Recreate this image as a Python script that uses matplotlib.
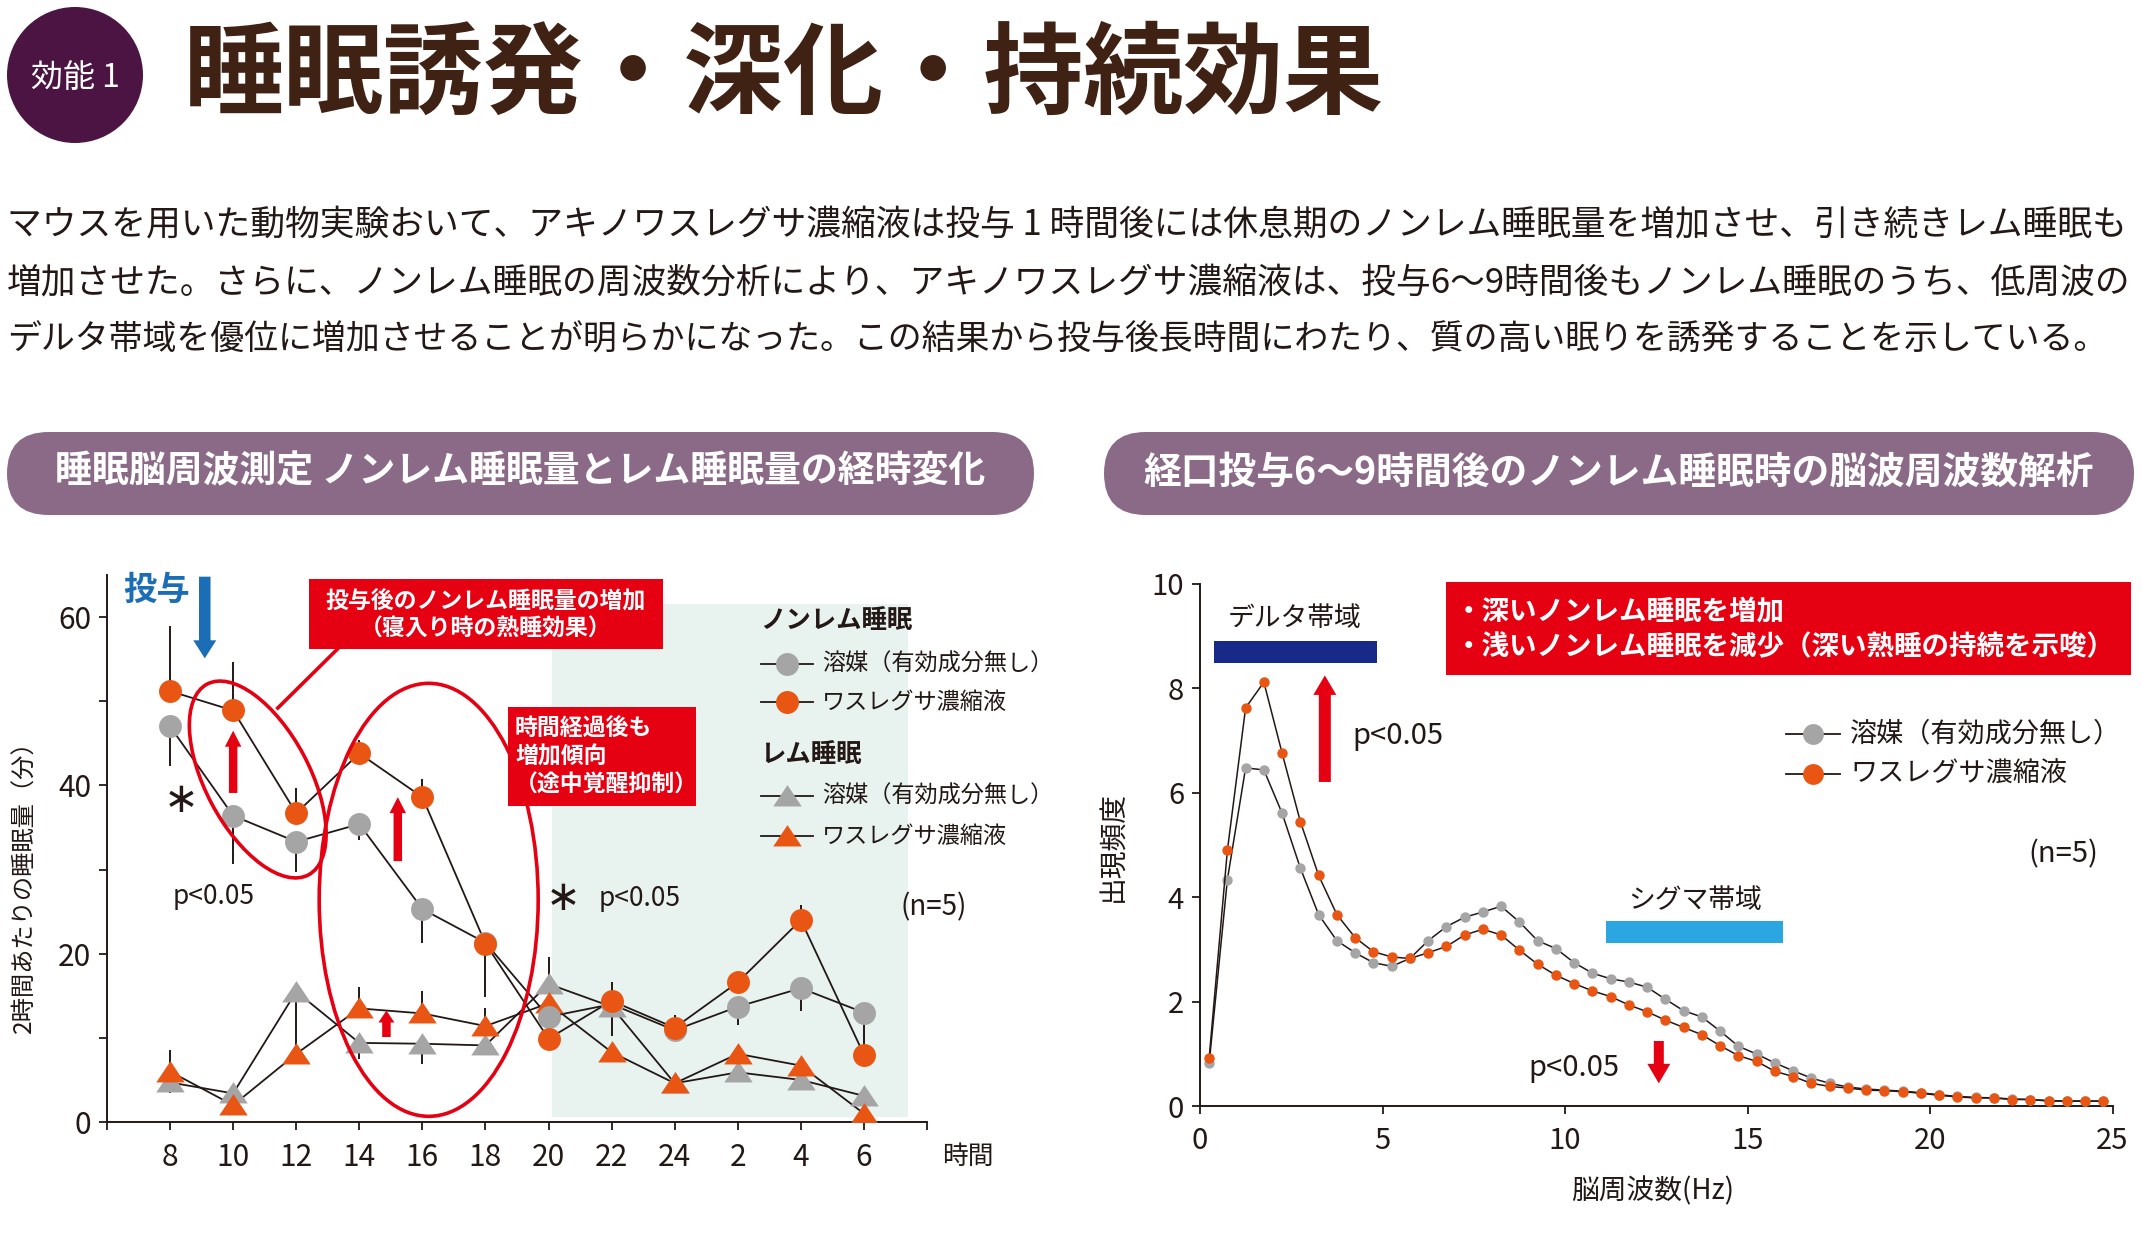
import matplotlib
matplotlib.use("Agg")
import matplotlib.pyplot as plt
from matplotlib.patches import Ellipse, FancyBboxPatch, FancyArrow, Rectangle, Circle

W, H = 2142, 1233
plt.rcParams["font.family"] = ["Noto Sans CJK JP", "DejaVu Sans"]

INK = "#231815"
GRAY = "#a5a5a5"
ORANGE = "#e95513"
RED = "#e50012"
BLUE = "#1b6db5"
PURPLE = "#8b6a88"

# ---- left chart: sleep amount per 2 h (min) ----
HOURS = ["8", "10", "12", "14", "16", "18", "20", "22", "24", "2", "4", "6"]
NREM_VEH = [47.0, 36.4, 33.3, 35.4, 25.3, 21.3, 12.5, 14.0, 10.9, 13.7, 15.9, 13.0]
NREM_VEH_LO = [4.7, 5.7, 3.6, 1.9, 4.0, 6.4, 0, 0, 0, 2.2, 2.7, 5.0]
NREM_VEH_HI = [0, 0, 0, 0, 0, 0, 0, 0, 0, 0, 0, 0]
NREM_WAS = [51.2, 48.9, 36.7, 43.8, 38.6, 21.2, 9.9, 14.4, 11.2, 16.6, 24.0, 8.0]
NREM_WAS_LO = [0, 0, 0, 0, 0, 0, 0, 0, 0, 0, 0, 0]
NREM_WAS_HI = [7.7, 5.8, 3.0, 1.6, 2.2, 0, 0, 2.2, 1.5, 0, 1.8, 0]
REM_VEH = [4.7, 3.4, 15.5, 9.4, 9.3, 9.1, 16.4, 13.7, 4.6, 5.9, 5.0, 3.1]
REM_VEH_LO = [1.3, 0, 6.5, 1.9, 2.4, 0, 0, 3.5, 0, 0, 0, 0]
REM_VEH_HI = [0, 0, 0, 0, 0, 0, 3.2, 0, 0, 0, 0, 0]
REM_WAS = [6.0, 2.0, 8.1, 13.5, 12.9, 11.4, 14.1, 8.3, 4.6, 8.1, 6.7, 1.0]
REM_WAS_LO = [0, 0, 0, 0, 0, 0, 0, 0, 0, 0, 0, 0]
REM_WAS_HI = [2.6, 0, 0, 2.6, 2.7, 2.2, 0, 0, 0, 0, 0, 0]
NIGHT_SPAN = (6.05, 11.7)   # shaded dark period, in hour-slot index

# ---- right chart: EEG frequency distribution ----
FREQ = [0.25, 0.75, 1.25, 1.75, 2.25, 2.75, 3.25, 3.75, 4.25, 4.75,
        5.25, 5.75, 6.25, 6.75, 7.25, 7.75, 8.25, 8.75, 9.25, 9.75,
        10.25, 10.75, 11.25, 11.75, 12.25, 12.75, 13.25, 13.75, 14.25, 14.75,
        15.25, 15.75, 16.25, 16.75, 17.25, 17.75, 18.25, 18.75, 19.25, 19.75,
        20.25, 20.75, 21.25, 21.75, 22.25, 22.75, 23.25, 23.75, 24.25, 24.75]
POW_VEH = [0.82, 4.34, 6.48, 6.44, 5.61, 4.56, 3.67, 3.17, 2.94, 2.75,
           2.68, 2.83, 3.17, 3.44, 3.62, 3.72, 3.83, 3.53, 3.17, 3.02,
           2.75, 2.55, 2.44, 2.38, 2.28, 2.05, 1.83, 1.71, 1.44, 1.15,
           1.00, 0.83, 0.68, 0.54, 0.44, 0.37, 0.33, 0.31, 0.29, 0.26,
           0.22, 0.19, 0.17, 0.16, 0.14, 0.13, 0.11, 0.10, 0.10, 0.10]
POW_WAS = [0.92, 4.90, 7.63, 8.12, 6.76, 5.45, 4.42, 3.67, 3.23, 2.96,
           2.86, 2.83, 2.94, 3.06, 3.28, 3.39, 3.28, 2.99, 2.72, 2.51,
           2.35, 2.21, 2.10, 1.94, 1.81, 1.65, 1.51, 1.37, 1.16, 0.97,
           0.86, 0.67, 0.57, 0.44, 0.38, 0.35, 0.31, 0.30, 0.28, 0.25,
           0.21, 0.18, 0.16, 0.16, 0.13, 0.13, 0.10, 0.10, 0.10, 0.10]
DELTA_BAND = (0.37, 4.84)
SIGMA_BAND = (11.13, 15.97)

TITLE = "睡眠誘発・深化・持続効果"
PARAGRAPH = [
    "マウスを用いた動物実験おいて、アキノワスレグサ濃縮液は投与 1 時間後には休息期のノンレム睡眠量を増加させ、引き続きレム睡眠も",
    "増加させた。さらに、ノンレム睡眠の周波数分析により、アキノワスレグサ濃縮液は、投与6～9時間後もノンレム睡眠のうち、低周波の",
    "デルタ帯域を優位に増加させることが明らかになった。この結果から投与後長時間にわたり、質の高い眠りを誘発することを示している。",
]
PARA_WIDTH = [2124, 2124, 2106]   # pixel width each line spans in the layout


def axes_px(l, t, r, b, **kw):
    return fig.add_axes([l / W, (H - b) / H, (r - l) / W, (b - t) / H], **kw)


def to_px(ax, x, y):
    X, Y = ax.transData.transform((x, y))
    return X, H - Y


def style_axes(ax):
    for s in ("top", "right"):
        ax.spines[s].set_visible(False)
    for s in ("left", "bottom"):
        ax.spines[s].set_linewidth(1.4)
        ax.spines[s].set_color(INK)
    ax.tick_params(direction="out", length=5.5, width=1.3, color=INK,
                   labelsize=21.5, labelcolor=INK)
    ax.tick_params(axis="x", pad=9)
    ax.tick_params(axis="y", pad=6)
    ax.patch.set_alpha(0)


fig = plt.figure(figsize=(W / 100, H / 100), dpi=100)

# ---------------- left chart ----------------
ax1 = axes_px(107, 575, 927, 1122)
style_axes(ax1)
ax1.set_xlim(-1, 12)
ax1.set_ylim(0, 65)
ax1.set_xticks(range(-1, 13))
ax1.set_xticklabels([""] + HOURS + [""])
ax1.set_yticks(range(0, 61, 10))
ax1.set_yticklabels(["0", "", "20", "", "40", "", "60"])
ax1.add_patch(Rectangle((NIGHT_SPAN[0], 0.6), NIGHT_SPAN[1] - NIGHT_SPAN[0], 60.9,
                        color="#e8f3f0", lw=0, zorder=0))

idx = list(range(len(HOURS)))
tri = [(0, 0.8), (-1, -0.7), (1, -0.7)]
series = [
    (REM_VEH, REM_VEH_LO, REM_VEH_HI, GRAY, tri, 20.5),
    (REM_WAS, REM_WAS_LO, REM_WAS_HI, ORANGE, tri, 20.5),
    (NREM_VEH, NREM_VEH_LO, NREM_VEH_HI, GRAY, "o", 16.5),
    (NREM_WAS, NREM_WAS_LO, NREM_WAS_HI, ORANGE, "o", 16.5),
]
for vals, lo, hi, col, mk, ms in series:
    ax1.errorbar(idx, vals, yerr=[lo, hi], fmt="none", ecolor=INK,
                 elinewidth=1.4, capsize=0, zorder=2)
for vals, lo, hi, col, mk, ms in series:
    ax1.plot(idx, vals, color=INK, lw=1.3, zorder=3)
for vals, lo, hi, col, mk, ms in series:
    ax1.plot(idx, vals, ls="none", marker=mk, ms=ms, mfc=col, mec=col,
             mew=0, zorder=4)

# ---------------- right chart ----------------
ax2 = axes_px(1200, 584, 2112.5, 1106.3)
style_axes(ax2)
ax2.tick_params(labelsize=21)
ax2.set_xlim(0, 25)
ax2.set_ylim(0, 10)
ax2.set_xticks([0, 5, 10, 15, 20, 25])
ax2.set_yticks([0, 2, 4, 6, 8, 10])
ax2.plot(FREQ, POW_VEH, color=INK, lw=1.1, marker="o", ms=7.5, mfc=GRAY,
         mec=GRAY, mew=0, zorder=3)
ax2.plot(FREQ, POW_WAS, color=INK, lw=1.1, marker="o", ms=7.5, mfc=ORANGE,
         mec=ORANGE, mew=0, zorder=4)
ax2.add_patch(Rectangle((DELTA_BAND[0], 8.49), DELTA_BAND[1] - DELTA_BAND[0], 0.41,
                        color="#172a88", lw=0))
ax2.add_patch(Rectangle((SIGMA_BAND[0], 3.13), SIGMA_BAND[1] - SIGMA_BAND[0], 0.41,
                        color="#2ca6e0", lw=0))

# ---------------- overlay in pixel coords ----------------
ov = fig.add_axes([0, 0, 1, 1], zorder=10)
ov.set_xlim(0, W)
ov.set_ylim(H, 0)
ov.axis("off")


def txt(x, y, s, size, **kw):
    kw.setdefault("color", INK)
    kw.setdefault("va", "center")
    return ov.text(x, y, s, fontsize=size, **kw)


def arrow(ax, x, y0, y1, shaft, head_w, head_l, color):
    X0, Y0 = to_px(ax, x, y0)
    X1, Y1 = to_px(ax, x, y1)
    ov.add_patch(FancyArrow(X0, Y0, X1 - X0, Y1 - Y0, width=shaft,
                            head_width=head_w, head_length=head_l,
                            length_includes_head=True, color=color, lw=0))


# header
ov.add_patch(Circle((75, 75), 68, color="#4b1442", lw=0))
txt(75, 78, "効能 1", 23, color="white", ha="center")
txt(184, 76, TITLE, 72, color="#3f2213", ha="left", weight="bold")

# paragraph, each line scaled to the width it spans
renderer = fig.canvas.get_renderer()
for line, y, width in zip(PARAGRAPH, [225, 284, 340], PARA_WIDTH):
    t = txt(7, y, line, 25, ha="left")
    w = t.get_window_extent(renderer=renderer).width
    t.set_fontsize(25 * width / w)

# section banners
for x0, x1, label, fs in [(7, 1034, "睡眠脳周波測定 ノンレム睡眠量とレム睡眠量の経時変化", 26.6),
                          (1104, 2134, "経口投与6～9時間後のノンレム睡眠時の脳波周波数解析", 27.2)]:
    ov.add_patch(FancyBboxPatch((x0, 432), x1 - x0, 83,
                                boxstyle="round,pad=0,rounding_size=41.5",
                                color=PURPLE, lw=0))
    txt((x0 + x1) / 2, 472, label, fs, color="white", ha="center", weight="bold")

# left chart annotations
txt(123, 590, "投与", 24, color=BLUE, ha="left", weight="bold")
arrow(ax1, 0.55, 64.8, 55.1, 11.5, 23, 18, BLUE)
arrow(ax1, 1.0, 39.1, 46.5, 8.5, 16.5, 16, RED)
arrow(ax1, 3.61, 31.0, 38.6, 8.5, 16.5, 16, RED)
arrow(ax1, 3.43, 10.1, 13.25, 8.5, 16, 12, RED)

cx, cy = to_px(ax1, 1.39, 40.7)
ov.add_patch(Ellipse((cx, cy), 216, 104, angle=62, fill=False, ec=RED, lw=2.6))
cx, cy = to_px(ax1, 4.1, 26.4)
ov.add_patch(Ellipse((cx, cy), 219, 433, angle=0, fill=False, ec=RED, lw=2.6))
ov.plot([337.5, 277.8], [649, 708], color=RED, lw=2.6)

ov.add_patch(Rectangle((309, 579), 354, 70, color=RED, lw=0))
txt(486, 601, "投与後のノンレム睡眠量の増加", 16.5, color="white", ha="center", weight="bold")
txt(486, 629, "（寝入り時の熟睡効果）", 16.5, color="white", ha="center", weight="bold")
ov.add_patch(Rectangle((508, 707), 188, 99, color=RED, lw=0))
for y, s in zip([728, 757, 785], ["時間経過後も", "増加傾向", "（途中覚醒抑制）"]):
    txt(515, y, s, 16.5, color="white", ha="left", weight="bold")

txt(181, 800, "∗", 30, ha="center", family="DejaVu Sans")
txt(173, 896, "p<0.05", 19, ha="left")
txt(563, 898, "∗", 30, ha="center", family="DejaVu Sans")
txt(599, 898, "p<0.05", 19, ha="left")
txt(934, 907, "(n=5)", 20, ha="center")
txt(968, 1157, "時間", 18.5, ha="center")
txt(25, 881, "2時間あたりの睡眠量（分）", 17.5, ha="center", rotation=90)

# left legend
txt(760, 621, "ノンレム睡眠", 18.3, ha="left", weight="bold")
txt(760, 754, "レム睡眠", 18.3, ha="left", weight="bold")
for y, col, mk, ms, lab in [(664, GRAY, "o", 16.5, "溶媒（有効成分無し）"),
                            (702, ORANGE, "o", 16.5, "ワスレグサ濃縮液"),
                            (796, GRAY, tri, 20.5, "溶媒（有効成分無し）"),
                            (836, ORANGE, tri, 20.5, "ワスレグサ濃縮液")]:
    ov.plot([760.5, 812.6], [y, y], color=INK, lw=1.3)
    ov.plot([787], [y], ls="none", marker=mk, ms=ms, mfc=col, mec=col, mew=0)
    txt(822, y, lab, 16.7, ha="left")

# right chart annotations
txt(1295, 618, "デルタ帯域", 19.3, ha="center")
txt(1695, 900, "シグマ帯域", 19.3, ha="center")
arrow(ax2, 3.42, 6.21, 8.25, 12, 23, 19.5, RED)
arrow(ax2, 12.57, 1.25, 0.44, 10, 23, 19.5, RED)
txt(1352, 736, "p<0.05", 21, ha="left")
txt(1528, 1068, "p<0.05", 21, ha="left")
txt(2063, 854, "(n=5)", 21, ha="center")
txt(1653, 1191, "脳周波数(Hz)", 20, ha="center")
txt(1113, 847, "出現頻度", 20, ha="center", rotation=90)

ov.add_patch(Rectangle((1446, 582), 685, 93, color=RED, lw=0))
txt(1455, 612, "・深いノンレム睡眠を増加", 19.8, color="white", ha="left", weight="bold")
txt(1455, 647, "・浅いノンレム睡眠を減少（深い熟睡の持続を示唆）", 19.8, color="white",
    ha="left", weight="bold")

for y, col, lab in [(734, GRAY, "溶媒（有効成分無し）"), (774, ORANGE, "ワスレグサ濃縮液")]:
    ov.plot([1786, 1840], [y, y], color=INK, lw=1.3)
    ov.plot([1813], [y], ls="none", marker="o", ms=15, mfc=col, mec=col, mew=0)
    txt(1850, y, lab, 19.5, ha="left")

fig.savefig("out.png", dpi=100)
